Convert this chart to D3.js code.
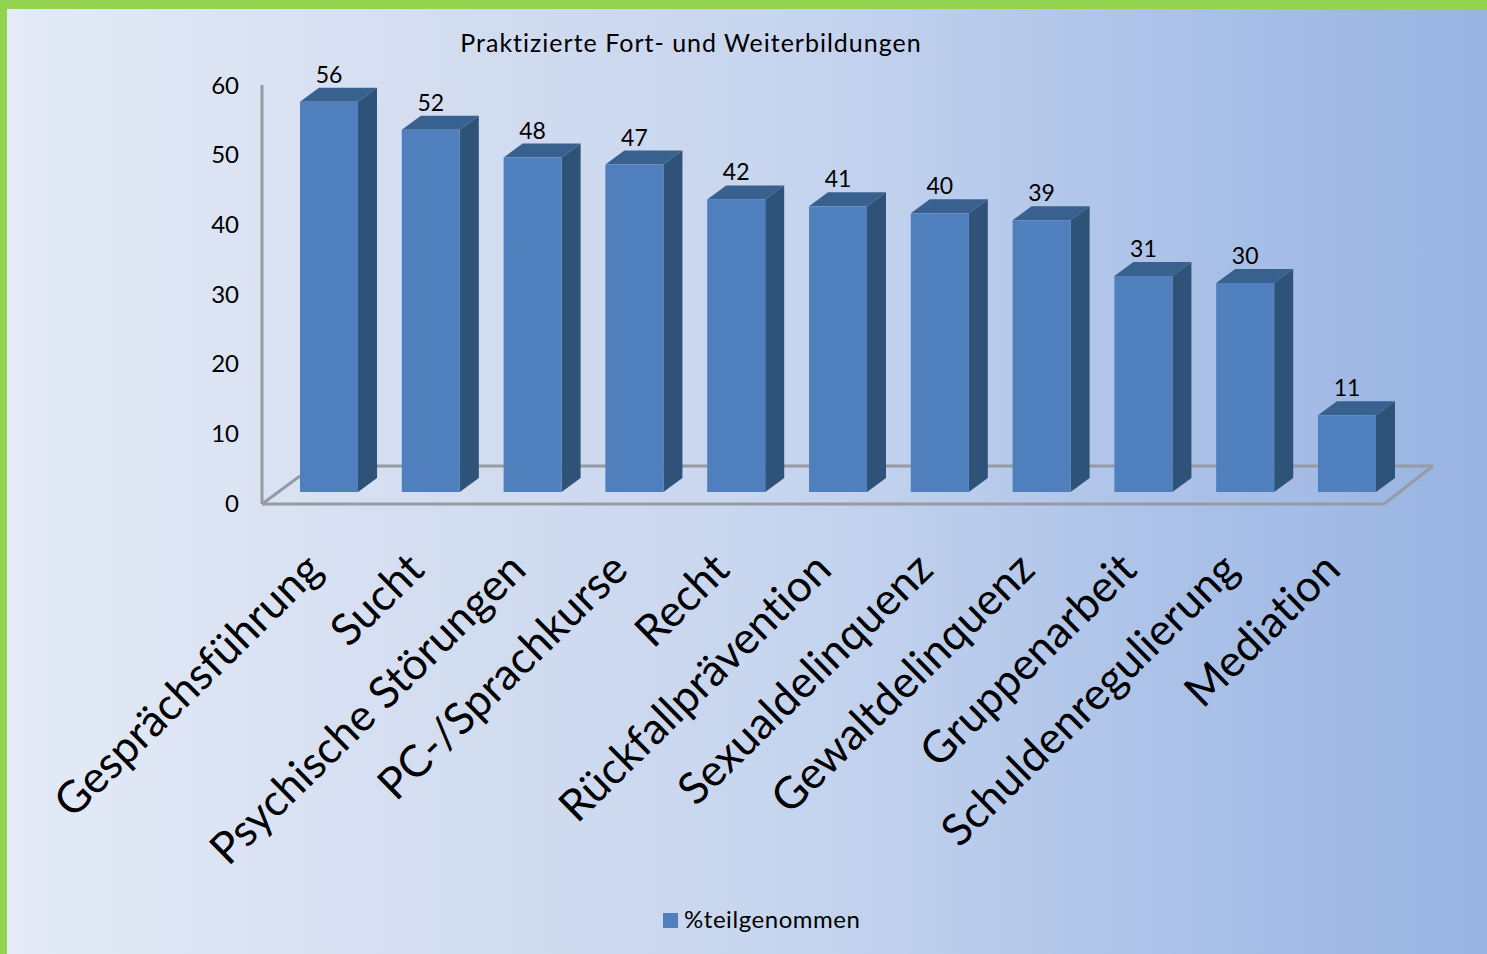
<!DOCTYPE html>
<html><head><meta charset="utf-8">
<script src="https://cdn.jsdelivr.net/npm/d3@7"></script>
<style>html,body{margin:0;padding:0;background:#fff;overflow:hidden}svg{display:block}text{font-family:Lato,"Open Sans",sans-serif;fill:#000;font-variant-ligatures:none}</style>
</head><body><svg id="c" width="1487" height="954"></svg>
<script>
const categories=["Gesprächsführung","Sucht","Psychische Störungen","PC-/Sprachkurse","Recht","Rückfallprävention","Sexualdelinquenz","Gewaltdelinquenz","Gruppenarbeit","Schuldenregulierung","Mediation"];
const values=[56,52,48,47,42,41,40,39,31,30,11];
const yTicks=[0,10,20,30,40,50,60];
const titleText="Praktizierte Fort- und Weiterbildungen";
const legendText="%teilgenommen";

const svg=d3.select("#c");
const defs=svg.append("defs");
const g=defs.append("linearGradient").attr("id","bg");
[[0,"#e4ebf7"],[0.3,"#d3ddf0"],[0.55,"#c5d4ee"],[0.75,"#afc4e9"],[1,"#98b3e2"]].forEach(d=>g.append("stop").attr("offset",d[0]).attr("stop-color",d[1]));
svg.append("rect").attr("width",1487).attr("height",954).attr("fill","#92d34f");
svg.append("rect").attr("x",7).attr("y",9).attr("width",1480).attr("height",945).attr("fill","url(#bg)");

const dx=19,dy=14;
const x=d3.scaleBand().domain(categories).range([277.6,1398.4]).paddingInner(0.43).paddingOuter(0.22);
const y=d3.scaleLinear().domain([0,60]).range([492,74]);
const fx=262,fr=1384,by=466;

const line="#969aa2";
const lines=[[fx,85,fx,504],[fx,504,fr,504],[fr,504,1433,by],[1433,by,fx+38,by],[fx,504,fx+38,476]];
svg.append("g").selectAll("line").data(lines).join("line")
 .attr("x1",d=>d[0]).attr("y1",d=>d[1]).attr("x2",d=>d[2]).attr("y2",d=>d[3])
 .attr("stroke",line).attr("stroke-width",3);

const ax=svg.append("g").attr("transform","translate(245,0)")
 .call(d3.axisLeft(d3.scaleLinear().domain([0,60]).range([503,85])).tickValues(yTicks).tickSize(0).tickPadding(6));
ax.select(".domain").remove();
ax.selectAll("text").style("font-size","24px").attr("dy","0.34em").attr("x",-6);

const bars=svg.append("g").selectAll("g").data(categories).join("g");
const w=x.bandwidth();
bars.append("path").attr("fill","#2f5279").attr("d",(c,i)=>{const X=x(c)+w,T=y(values[i]),B=y(0);
 return d3.line()([[X,T],[X+dx,T-dy],[X+dx,B-dy],[X,B]])+"Z";});
bars.append("path").attr("fill","#39618f").attr("d",(c,i)=>{const X=x(c),T=y(values[i]);
 return d3.line()([[X,T],[X+dx,T-dy],[X+w+dx,T-dy],[X+w,T]])+"Z";});
bars.append("rect").attr("x",c=>x(c)).attr("width",w).attr("y",(c,i)=>y(values[i])).attr("height",(c,i)=>y(0)-y(values[i])).attr("fill","#4f7fbd");
bars.append("text").attr("x",c=>x(c)+w/2).attr("y",(c,i)=>y(values[i])-19).attr("text-anchor","middle").style("font-size","23px").text((c,i)=>values[i]);

svg.append("g").selectAll("text").data(categories).join("text")
 .attr("transform",c=>`translate(${x(c)+w/2-29},547) rotate(-44.5)`)
 .attr("text-anchor","end").attr("dy","0.8em").style("font-size","44px").text(c=>c);

svg.append("text").attr("x",691).attr("y",52).attr("text-anchor","middle").style("font-size","25px").style("letter-spacing","1px").text(titleText);
svg.append("rect").attr("x",663).attr("y",913).attr("width",15).attr("height",15).attr("fill","#4f7fbd");
svg.append("text").attr("x",684).attr("y",928).style("font-size","24px").style("letter-spacing","0.55px").text(legendText);
</script></body></html>
